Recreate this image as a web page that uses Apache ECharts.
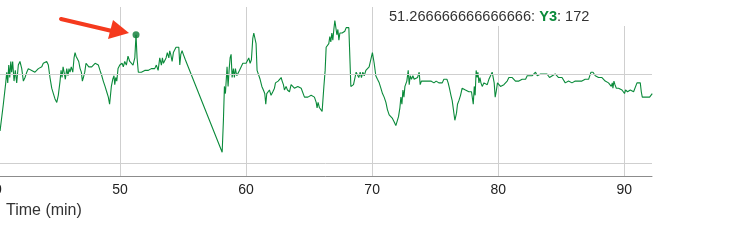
<!DOCTYPE html>
<html>
<head>
<meta charset="utf-8">
<script src="https://cdn.jsdelivr.net/npm/echarts@6/dist/echarts.min.js"></script>
<style>
html,body{margin:0;padding:0;background:#fff;}
#chart{width:736px;height:248px;}
</style>
</head>
<body>
<div id="chart"></div>
<script>
// Time (min)
const times = [
40.48,40.61,40.74,40.85,40.93,41.01,41.09,41.17,41.25,41.33,41.40,41.48,41.59,41.69,41.80,41.93,42.06,42.20,42.33,42.46,
42.60,42.72,42.86,42.99,43.12,43.25,43.39,43.52,43.65,43.79,43.91,44.05,44.18,44.31,44.44,44.58,44.71,44.84,44.98,45.10,
45.24,45.32,45.40,45.48,45.56,45.66,45.77,45.87,45.95,46.03,46.13,46.25,46.35,46.43,46.51,46.61,46.72,46.83,46.93,47.01,
47.09,47.20,47.30,47.40,47.52,47.62,47.75,47.88,48.02,48.15,48.28,48.41,48.55,48.67,48.81,48.94,49.07,49.17,
49.31,49.42,49.52,49.58,49.66,49.74,49.84,49.98,50.06,50.16,50.26,50.37,50.50,50.63,50.77,50.90,51.03,51.17,51.266666666666666,
51.35,51.45,51.56,51.69,51.83,51.96,52.09,52.22,52.36,52.48,52.62,52.75,52.88,53.02,53.15,53.28,53.36,53.44,53.55,53.65,
53.75,53.87,53.94,54.02,54.13,54.23,54.34,54.44,54.55,54.66,54.74,54.82,54.92,55.02,55.18,
58.10,58.20,58.28,58.36,58.41,58.49,58.57,58.65,58.73,58.81,58.89,58.99,59.07,59.15,59.26,59.37,59.47,59.60,59.74,59.87,
60.00,60.14,60.21,60.32,60.42,60.53,60.61,60.71,60.79,60.87,60.98,61.11,61.25,61.37,61.48,61.56,61.64,61.75,61.85,61.98,
62.12,62.25,62.33,62.44,62.54,62.64,62.78,62.86,62.96,63.04,63.17,63.28,63.44,63.57,63.71,63.83,63.97,64.10,64.23,64.37,
64.50,64.63,64.76,64.90,65.02,65.16,65.29,65.42,65.56,65.63,65.71,65.82,65.95,66.03,66.09,66.17,66.27,66.35,66.45,66.56,
66.64,66.72,66.80,66.88,66.96,67.04,67.12,67.20,67.28,67.36,67.44,67.52,67.62,67.72,67.83,67.94,68.04,68.15,68.23,68.31,
68.41,68.52,68.63,68.73,68.83,68.94,69.05,69.15,69.26,69.37,69.50,69.63,69.76,69.90,70.02,70.16,70.29,70.42,70.56,70.69,
70.82,70.95,71.09,71.21,71.35,71.48,71.61,71.75,71.88,71.98,72.09,72.20,72.28,72.36,72.44,72.52,72.60,72.67,72.75,72.86,
72.94,73.02,73.12,73.23,73.33,73.47,73.60,73.73,73.81,73.91,74.02,74.13,74.26,74.39,74.52,74.66,74.79,74.90,75.02,75.08,
75.18,75.29,75.42,75.56,75.69,75.82,75.93,76.03,76.13,76.25,76.35,76.45,76.56,76.61,76.69,76.77,76.88,77.01,77.14,77.28,
77.40,77.54,77.67,77.80,77.88,77.94,78.02,78.10,78.17,78.25,78.33,78.39,78.47,78.55,78.63,78.73,78.87,78.99,79.13,79.26,
79.39,79.52,79.60,79.68,79.76,79.84,79.94,80.06,80.18,80.32,80.45,80.58,80.71,80.85,80.98,81.11,81.25,81.37,81.51,81.64,
81.77,81.90,82.04,82.17,82.30,82.38,82.48,82.60,82.70,82.83,82.96,83.10,83.23,83.36,83.47,83.60,83.73,83.87,83.99,84.07,
84.18,84.29,84.39,84.52,84.66,84.79,84.92,85.06,85.18,85.32,85.45,85.58,85.71,85.85,85.98,86.11,86.25,86.37,86.51,86.64,
86.77,86.90,87.04,87.17,87.30,87.36,87.44,87.52,87.62,87.70,87.83,87.96,88.10,88.23,88.36,88.49,88.63,88.75,88.89,88.97,
89.05,89.10,89.18,89.26,89.37,89.55,89.68,89.82,89.94,90.02,90.10,90.18,90.26,90.34,90.48,90.61,90.74,90.87,91.01,91.14,
91.27,91.35,91.43,91.59,91.75,91.88,92.01,92.12,92.22
];
// Y3
const y3 = [
118,117,133,134,145,151,145,155,148,157,151,157,146,152,145,155,157,153,146,148,
151,153,153,152,153,151,152,153,153,154,156,157,157,155,148,142,139,136,134,138,
146,152,148,154,151,147,153,149,153,151,154,151,159,162,160,159,157,153,151,146,
148,151,156,155,154,155,154,155,156,157,155,152,149,146,143,140,137,133,
143,147,149,144,148,146,153,155,154,156,154,157,155,160,157,158,155,159,172,
159,151,150,151,151,152,152,152,152,153,153,153,155,152,159,155,159,156,157,159,
162,159,163,161,157,162,163,165,166,165,155,161,163,161,158,
106,124,143,139,145,154,143,152,159,161,148,153,148,153,149,149,152,153,156,155,
156,157,159,156,158,170,173,172,167,152,151,147,143,141,139,133,139,140,141,138,
140,142,145,146,146,145,148,146,144,141,143,141,140,144,144,142,142,143,142,142,
143,137,137,137,137,138,137,137,134,131,134,131,130,129,135,143,152,165,166,167,
171,168,173,169,175,180,176,172,175,169,173,174,173,174,174,176,177,176,175,143,
143,144,145,151,152,148,151,148,151,149,152,153,154,155,162,156,149,147,145,142,
139,137,134,130,127,126,125,123,121,120,126,131,137,133,141,137,143,142,146,152,
144,149,147,149,147,148,148,151,144,146,145,146,145,146,146,146,147,145,144,146,
145,145,146,145,147,146,147,145,142,138,135,134,124,123,128,133,135,138,142,142,
141,140,140,140,140,141,133,143,138,152,148,151,145,148,145,143,145,146,144,147,
149,151,152,145,137,140,145,144,143,143,144,145,146,148,148,148,147,146,146,146,
146,147,148,147,149,148,149,148,149,149,151,149,149,150,149,150,149,150,149,148,
149,149,149,150,150,148,148,148,148,145,144,146,147,145,146,146,146,146,146,146,
146,147,147,147,148,151,151,151,151,149,148,148,147,148,147,146,146,145,145,143,
145,142,146,144,142,142,142,141,140,139,141,140,140,140,141,140,140,141,145,146,
145,140,137,137,137,137,137,138,139
];
const xTicks = [40, 50, 60, 70, 80, 90];
const yGridValues = [100, 150];
const seriesName = 'Y3';
const highlightIndex = times.indexOf(51.266666666666666);

const GREEN = '#0a8a3a';
const FONT = 'Liberation Sans, Arial, Helvetica, sans-serif';
const chart = echarts.init(document.getElementById('chart'), null, {renderer: 'canvas'});
const lineData = times.map((t, i) => [t, y3[i]]);
const hlTime = times[highlightIndex], hlVal = y3[highlightIndex];

chart.setOption({
  animation: false,
  backgroundColor: '#fff',
  grid: {left: -6, right: 84, top: 7, bottom: 72, containLabel: false, outerBoundsMode: 'none'},
  xAxis: {
    type: 'value', min: xTicks[0], max: 92.2, interval: 10,
    axisLine: {lineStyle: {color: '#8c8c8c', width: 1}},
    axisTick: {show: false},
    axisLabel: {fontSize: 14, color: '#222', margin: 7, fontFamily: FONT, showMaxLabel: false,
      hideOverlap: false, formatter: v => xTicks.indexOf(v) >= 0 ? String(v) : ''},
    splitLine: {show: true, showMaxLine: false, lineStyle: {color: '#cfcfcf', width: 1}}
  },
  yAxis: {
    type: 'value', min: 92.7, max: 187.6,
    axisLine: {show: false}, axisTick: {show: false}, axisLabel: {show: false}, splitLine: {show: false}
  },
  series: [
    {
      name: seriesName, type: 'line', data: lineData, showSymbol: false, symbol: 'none',
      lineStyle: {color: GREEN, width: 1.1}, silent: true, z: 3,
      markLine: {
        silent: true, symbol: ['none', 'none'], label: {show: false},
        lineStyle: {color: '#cfcfcf', width: 1, type: 'solid'},
        data: yGridValues.map(v => ({yAxis: v}))
      }
    },
    {
      type: 'scatter', data: [[hlTime, hlVal]], symbol: 'circle', symbolSize: 7,
      itemStyle: {color: '#087a33'}, silent: true, z: 4
    }
  ],
  graphic: [
    {type: 'rect', shape: {x: 384, y: 0, width: 256, height: 26}, style: {fill: '#fff'}, z: 50, silent: true},
    {type: 'text', x: 389, y: 17, z: 51, silent: true,
      style: {
        text: '{a|' + String(hlTime) + ': }{b|' + seriesName + '}{a|: ' + hlVal + '}',
        verticalAlign: 'middle', textVerticalAlign: 'middle',
        rich: {
          a: {fontSize: 14.6, fill: '#333', fontFamily: FONT},
          b: {fontSize: 14.6, fill: GREEN, fontWeight: 'bold', fontFamily: FONT}
        }
      }
    },
    {type: 'text', x: 6, y: 211, z: 51, silent: true,
      style: {text: 'Time (min)', fontSize: 16, fill: '#333', verticalAlign: 'middle', fontFamily: FONT}},
    {type: 'line', shape: {x1: 61, y1: 19, x2: 112, y2: 31}, style: {stroke: '#f53a1e', lineWidth: 4, lineCap: 'round'}, z: 52, silent: true},
    {type: 'polygon', shape: {points: [[129, 33], [108, 39], [113, 20]]}, style: {fill: '#f53a1e'}, z: 52, silent: true}
  ]
});
</script>
</body>
</html>
